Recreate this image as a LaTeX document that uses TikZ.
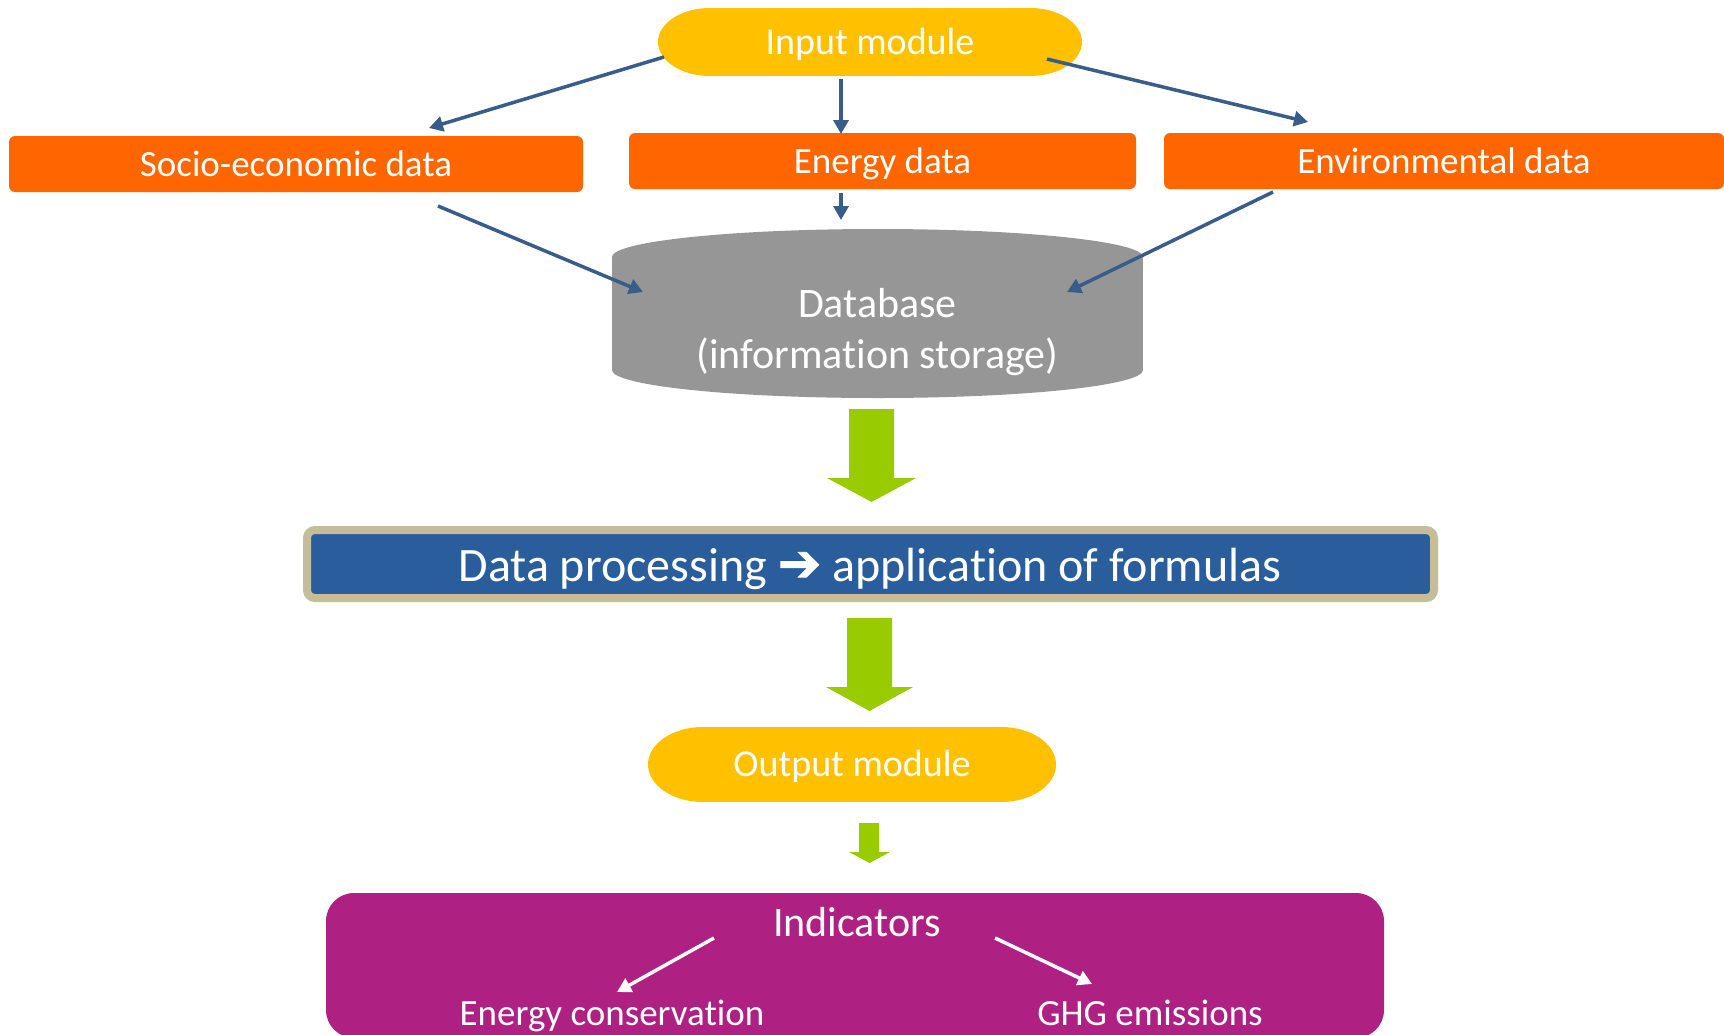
\documentclass[tikz,border=0pt]{standalone}
\usepackage{fontspec}
\setmainfont[RawFeature=-liga]{Carlito}
\newfontfamily\symfont[FakeBold=1.6]{DejaVu Sans}
\usetikzlibrary{arrows.meta}
\definecolor{cyellow}{HTML}{FFC000}
\definecolor{corange}{HTML}{FF6600}
\definecolor{cgray}{HTML}{969696}
\definecolor{cblue}{HTML}{385D8A}
\definecolor{cgreen}{HTML}{99CC00}
\definecolor{cdblue}{HTML}{2A5D9B}
\definecolor{ctan}{HTML}{C4BD97}
\definecolor{cmag}{HTML}{AE2183}
\begin{document}
\begin{tikzpicture}[x=1pt,y=-1pt,
  conn/.style={draw=cblue, line width=3.5pt, -{Triangle[length=14pt,width=15pt]}},
  wconn/.style={draw=white, line width=3.5pt, -{Triangle[length=14pt,width=15pt]}},
  databox/.style={fill=corange, rounded corners=6pt, inner sep=0pt, text=white,
    font=\fontsize{37}{44}\selectfont, text height=24pt, text depth=0pt, minimum height=56pt},
  modtext/.style={inner sep=0pt, text=white, font=\fontsize{38}{46}\selectfont,
    text height=24.5pt, text depth=0pt},
  bigtext/.style={inner sep=0pt, text=white, anchor=base},
  blockarrow/.style={fill=cgreen}
]
\useasboundingbox (0,0) rectangle (1724,1034);

% Input module (stadium with elliptical ends)
\fill[cyellow] (710,8) rectangle (1030,76);
\fill[cyellow] (710,42) ellipse [x radius=52, y radius=34];
\fill[cyellow] (1030,42) ellipse [x radius=52, y radius=34];
\node[modtext, minimum width=424pt, minimum height=68pt] (in) at (870,42) {Input module};

% Data boxes
\node[databox, minimum width=574pt] (socio) at (296,164) {Socio-economic data};
\node[databox, minimum width=507pt] (energy) at (882.5,161) {Energy data};
\node[databox, minimum width=560pt] (env) at (1444,161) {Environmental data};

% Database cylinder
\fill[cgray] (612,257) rectangle (1143,370);
\fill[cgray] (877.5,257) ellipse [x radius=265.5, y radius=28];
\fill[cgray] (877.5,370) ellipse [x radius=265.5, y radius=28];
\node[minimum width=531pt, minimum height=170pt, inner sep=0pt] (db) at (877.5,313) {};
\node[bigtext, font=\fontsize{42}{50}\selectfont] (db1) at (877.5,317) {Database};
\node[bigtext, font=\fontsize{42}{50}\selectfont] (db2) at (877.5,368) {(information storage)};

% Blue connectors
\coordinate (c1s) at (664,57);  \coordinate (c1e) at (429,128);
\coordinate (c2s) at (841,79);  \coordinate (c2e) at (841,134);
\coordinate (c3s) at (1047,59); \coordinate (c3e) at (1308,122);
\coordinate (c4s) at (438,206); \coordinate (c4e) at (643,292);
\coordinate (c5s) at (841,193); \coordinate (c5e) at (841,220);
\coordinate (c6s) at (1273,192);\coordinate (c6e) at (1067,292);
\draw[conn] (c1s) -- (c1e);
\draw[conn] (c2s) -- (c2e);
\draw[conn] (c3s) -- (c3e);
\draw[conn] (c4s) -- (c4e);
\draw[conn] (c5s) -- (c5e);
\draw[conn] (c6s) -- (c6e);

% Green block arrow 1
\fill[blockarrow] (849,409) -- (894,409) -- (894,478) -- (916,478) -- (871.5,502) -- (827,478) -- (849,478) -- cycle;

% Data processing box
\node[draw=ctan, line width=8pt, fill=cdblue, rounded corners=8pt, minimum width=1127pt,
  minimum height=68pt, inner sep=0pt] (proc) at (870.5,564) {};
\node[bigtext, font=\fontsize{48}{56}\selectfont] (proctext) at (870,581)
  {Data processing {\symfont\fontsize{52}{56}\selectfont ➔} application of formulas};

% Green block arrow 2
\fill[blockarrow] (847,618) -- (892,618) -- (892,687) -- (913,687) -- (869.5,711) -- (826,687) -- (847,687) -- cycle;

% Output module
\fill[cyellow] (703,727) rectangle (1001,802);
\fill[cyellow] (703,764.5) ellipse [x radius=55, y radius=37.5];
\fill[cyellow] (1001,764.5) ellipse [x radius=55, y radius=37.5];
\node[modtext, minimum width=408pt, minimum height=75pt] (out) at (852,764.5) {Output module};

% Green block arrow 3
\fill[blockarrow] (859,823) -- (879,823) -- (879,852) -- (890,852) -- (869.5,863) -- (849,852) -- (859,852) -- cycle;

% Indicators box
\node[fill=cmag, rounded corners=28pt, minimum width=1058pt, minimum height=145pt, inner sep=0pt]
  (ind) at (855,965.5) {};
\node[bigtext, font=\fontsize{42}{50}\selectfont] (indt) at (857,936) {Indicators};
\node[bigtext, font=\fontsize{37}{44}\selectfont] (ec) at (612,1025) {Energy conservation};
\node[bigtext, font=\fontsize{37}{44}\selectfont] (ghg) at (1150,1025) {GHG emissions};
\coordinate (w1s) at (714,938); \coordinate (w1e) at (617,992);
\coordinate (w2s) at (995,938); \coordinate (w2e) at (1092,984);
\draw[wconn] (w1s) -- (w1e);
\draw[wconn] (w2s) -- (w2e);
\end{tikzpicture}
\end{document}
